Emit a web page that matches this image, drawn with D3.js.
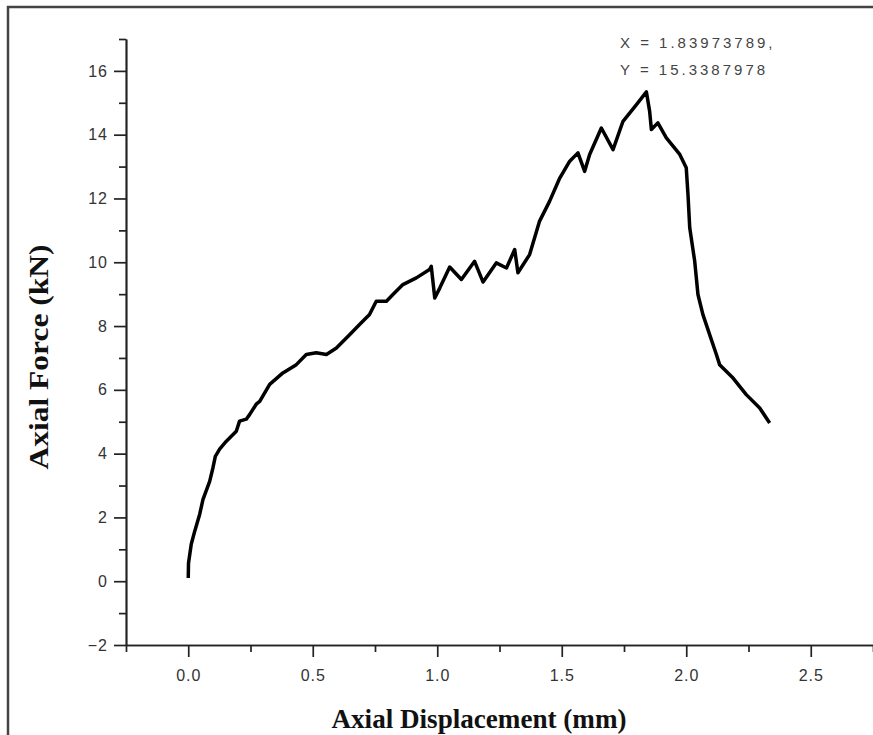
<!DOCTYPE html>
<html>
<head>
<meta charset="utf-8">
<script src="https://cdn.jsdelivr.net/npm/d3@7"></script>
<style>
    body { margin: 0; background: #fff; }
    .tick text { font-family: Arial, "Liberation Sans", sans-serif; font-size: 16px; fill: #333; letter-spacing: 1px; }
    .axis path, .axis line { stroke: #222; stroke-width: 1.7; }
    .axis-title { font-family: "Times New Roman", "Liberation Serif", serif; font-weight: bold; font-size: 28px; fill: #111; }
    .note { font-family: Arial, "Liberation Sans", sans-serif; font-size: 15px; fill: #444; letter-spacing: 3px; }
</style>
</head>
<body>
<script>
// Force-Displacement Curve

// const and Global Variables
const w = 873; // Space Width
const h = 735; // Space Height
const plotLeft = 126, plotRight = 873, plotTop = 39, plotBottom = 645; // Plot Area Edges

// Data
const dispMm = [0.000, 0.001, 0.012, 0.026, 0.046, 0.059, 0.086, 0.099, 0.109, 0.113,
    0.126, 0.153, 0.193, 0.206, 0.233, 0.247, 0.273, 0.287, 0.327, 0.380,
    0.434, 0.474, 0.514, 0.555, 0.595, 0.648, 0.688, 0.728, 0.755, 0.796,
    0.822, 0.862, 0.916, 0.969, 0.976, 0.990, 1.010, 1.050, 1.097, 1.150,
    1.184, 1.237, 1.278, 1.311, 1.324, 1.371, 1.411, 1.451, 1.492, 1.532,
    1.565, 1.592, 1.612, 1.659, 1.706, 1.746, 1.800, 1.840, 1.853, 1.860,
    1.886, 1.920, 1.974, 2.000, 2.007, 2.014, 2.034, 2.047, 2.067, 2.094,
    2.121, 2.134, 2.188, 2.241, 2.295, 2.335];
const forceKn = [0.10, 0.56, 1.16, 1.57, 2.10, 2.56, 3.13, 3.55, 3.92, 3.97,
    4.14, 4.39, 4.70, 5.02, 5.08, 5.23, 5.55, 5.64, 6.17, 6.53,
    6.79, 7.11, 7.16, 7.11, 7.31, 7.73, 8.05, 8.36, 8.78, 8.78,
    8.99, 9.30, 9.51, 9.77, 9.87, 8.88, 9.19, 9.85, 9.46, 10.03,
    9.38, 9.98, 9.82, 10.40, 9.67, 10.24, 11.29, 11.91, 12.64, 13.17,
    13.43, 12.85, 13.38, 14.21, 13.53, 14.42, 14.94, 15.34, 14.73, 14.16,
    14.37, 13.90, 13.38, 12.96, 12.12, 11.08, 10.03, 8.99, 8.36, 7.73,
    7.11, 6.79, 6.37, 5.85, 5.43, 4.96];
const xTicks = [0, 0.5, 1.0, 1.5, 2.0, 2.5];
const xMinorTicks = [-0.25, 0.25, 0.75, 1.25, 1.75, 2.25, 2.75];
const yTicks = [-2, 0, 2, 4, 6, 8, 10, 12, 14, 16];
const yMinorTicks = [-1, 1, 3, 5, 7, 9, 11, 13, 15, 17];
const peakLabel = ["X = 1.83973789,", "Y = 15.3387978"];

const data = dispMm.map((d, i) => ({ x: d, y: forceKn[i] }));

// Scales
const xScale = d3.scaleLinear().domain([-0.25, 2.75]).range([plotLeft, plotRight]);
const yScale = d3.scaleLinear().domain([-2, 17]).range([plotBottom, plotTop]);

// SVG Container
const svg = d3.select("body").append("svg")
    .attr("width", w)
    .attr("height", h);

// Outer Frame (Left and Top Only Visible)
svg.append("path")
   .attr("d", "M8," + h + "V7H" + w)
   .attr("fill", "none")
   .attr("stroke", "#444")
   .attr("stroke-width", 2.5);

// Minor Ticks
svg.append("g")
   .attr("class", "axis")
   .attr("transform", "translate(0," + plotBottom + ")")
   .call(d3.axisBottom(xScale).tickValues(xMinorTicks).tickSize(7).tickSizeOuter(0).tickFormat(""));
svg.append("g")
   .attr("class", "axis")
   .attr("transform", "translate(" + plotLeft + ",0)")
   .call(d3.axisLeft(yScale).tickValues(yMinorTicks).tickSize(7).tickSizeOuter(0).tickFormat(""));

// Major Ticks With Labels
svg.append("g")
   .attr("class", "axis")
   .attr("transform", "translate(0," + plotBottom + ")")
   .call(d3.axisBottom(xScale).tickValues(xTicks).tickSize(12).tickSizeOuter(0).tickPadding(13).tickFormat(d3.format(".1f")));
svg.append("g")
   .attr("class", "axis")
   .attr("transform", "translate(" + plotLeft + ",0)")
   .call(d3.axisLeft(yScale).tickValues(yTicks).tickSize(12).tickSizeOuter(0).tickPadding(6).tickFormat(d3.format("d")));

// Curve
const line = d3.line().x(d => xScale(d.x)).y(d => yScale(d.y));
svg.append("path")
   .datum(data)
   .attr("d", line)
   .attr("fill", "none")
   .attr("stroke", "#000")
   .attr("stroke-width", 3.5)
   .attr("stroke-linejoin", "round");

// Peak Note
svg.selectAll(".note")
   .data(peakLabel)
   .enter().append("text")
   .attr("class", "note")
   .attr("x", 620)
   .attr("y", (d, i) => 48 + i * 27)
   .text(d => d);

// X-Axis Title
svg.append("text")
   .attr("class", "axis-title")
   .attr("x", 479)
   .attr("y", 728)
   .attr("text-anchor", "middle")
   .attr("textLength", 295)
   .attr("lengthAdjust", "spacingAndGlyphs")
   .text("Axial Displacement (mm)");

// Y-Axis Title
svg.append("text")
   .attr("class", "axis-title")
   .attr("transform", "translate(48,357) rotate(-90)")
   .attr("text-anchor", "middle")
   .attr("textLength", 225)
   .attr("lengthAdjust", "spacingAndGlyphs")
   .text("Axial Force (kN)");
</script>
</body>
</html>
